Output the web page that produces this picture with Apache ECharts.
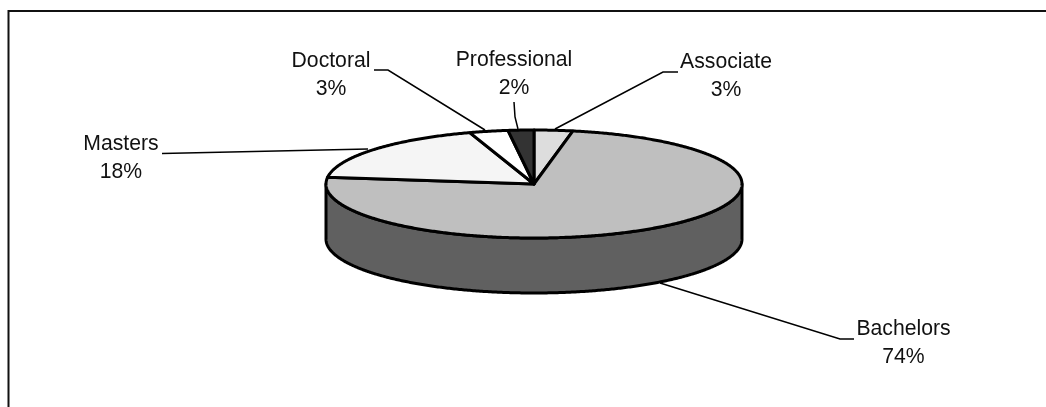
<!DOCTYPE html>
<html>
<head>
<meta charset="utf-8">
<style>html,body{margin:0;padding:0;background:#fff}#c{width:1046px;height:407px}</style>
<script src="https://cdn.jsdelivr.net/npm/echarts@6/dist/echarts.min.js"></script>
</head>
<body>
<div id="c"></div>
<script>
// Data, clockwise from twelve o'clock
const categories = ['Associate', 'Bachelors', 'Masters', 'Doctoral', 'Professional'];
const values = [3, 74, 18, 3, 2];

// Styling
const topColors = ['#dddddd', '#bfbfbf', '#f5f5f5', '#ffffff', '#333333'];
const wallColors = ['#6e6e6e', '#606060', '#7a7a7a', '#808080', '#1a1a1a'];

// Layout
const cx = 534, cy = 184, rx = 208, ry = 54, depth = 55;
const labelCenters = [[726, 76], [903.5, 343], [121, 158], [331, 75], [514, 74]];
const leaders = [
  [[678, 72], [663, 72], [555, 129]],
  [[854, 339], [840, 339], [660, 283]],
  [[162, 153.5], [368, 149]],
  [[374, 70], [388, 70], [485, 130]],
  [[514, 102], [515, 117], [518, 129]]
];

const total = values.reduce((a, b) => a + b, 0);
const starts = [];
values.reduce((acc, v, i) => { starts[i] = acc; return acc + v; }, 0);
const rows = categories.map((c, i) => [values[i], starts[i], c, i]);

const ptOn = (deg, dy) => {
  const a = deg * Math.PI / 180;
  return [cx + rx * Math.sin(a), cy - ry * Math.cos(a) + (dy || 0)];
};
const arc = (a0, a1, dy) => {
  const n = Math.max(2, Math.ceil(Math.abs(a1 - a0) * 2));
  const out = [];
  for (let k = 0; k <= n; k++) out.push(ptOn(a0 + (a1 - a0) * k / n, dy));
  return out;
};
const angles = (api) => {
  const a0 = api.value(1) / total * 360;
  return [a0, a0 + api.value(0) / total * 360];
};
const stroke = { stroke: '#000', lineWidth: 3, lineJoin: 'round' };

const renderWall = (params, api) => {
  const [a0, a1] = angles(api);
  const s = Math.max(a0, 90), e = Math.min(a1, 270);
  if (e <= s) return { type: 'group', children: [] };
  const pts = arc(s, e, 0).concat(arc(e, s, depth));
  return { type: 'polygon', shape: { points: pts },
    style: Object.assign({ fill: wallColors[api.value(3)] }, stroke) };
};
const renderTop = (params, api) => {
  const [a0, a1] = angles(api);
  const pts = [[cx, cy]].concat(arc(a0, a1, 0));
  return { type: 'polygon', shape: { points: pts },
    style: Object.assign({ fill: topColors[api.value(3)] }, stroke) };
};
const renderLabel = (params, api) => {
  const i = api.value(3);
  const pct = Math.round(api.value(0) / total * 100);
  return { type: 'group', children: [
    { type: 'polyline', shape: { points: leaders[i] },
      style: { stroke: '#000', lineWidth: 1.5, fill: 'none' } },
    { type: 'text', x: labelCenters[i][0], y: labelCenters[i][1],
      style: { text: api.value(2) + '\n' + pct + '%', align: 'center', verticalAlign: 'middle',
        fill: '#111', font: '21.2px "Liberation Sans", Arial, sans-serif', lineHeight: 28 } }
  ] };
};
const layer = (renderItem, z) => ({
  type: 'custom', coordinateSystem: 'none', renderItem, data: rows, z,
  silent: true, animation: false, clip: false,
  encode: { value: 0 }
});

const chart = echarts.init(document.getElementById('c'), null, { renderer: 'canvas' });
chart.setOption({
  animation: false,
  backgroundColor: '#fff',
  tooltip: { show: false },
  graphic: [
    { type: 'polyline', silent: true, z: 0,
      shape: { points: [[8.5, 407], [8.5, 11], [1046, 11]] },
      style: { stroke: '#111', lineWidth: 2, fill: 'none' } }
  ],
  series: [layer(renderWall, 1), layer(renderTop, 2), layer(renderLabel, 3)]
});
</script>
</body>
</html>
